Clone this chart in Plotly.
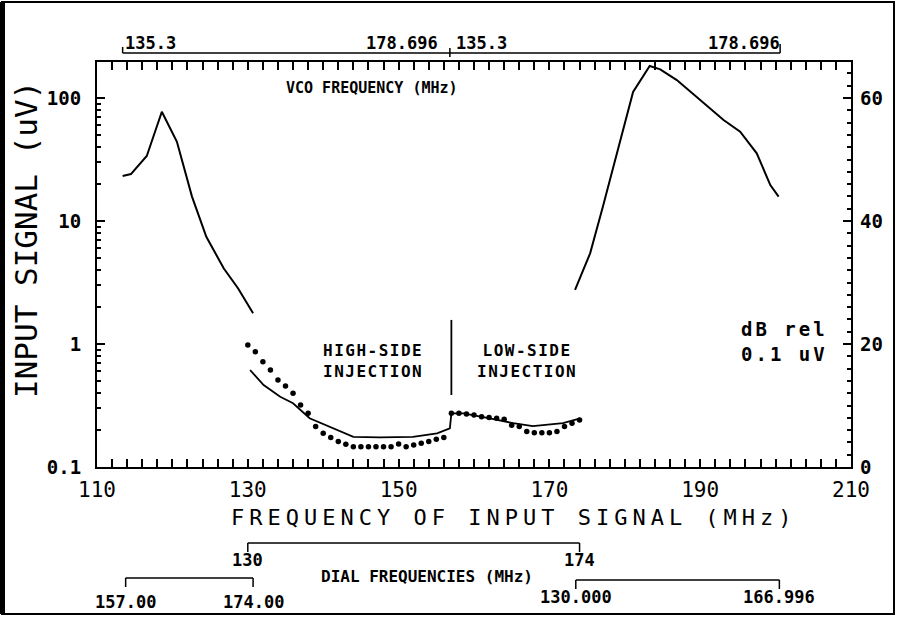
import plotly.graph_objects as go

# image-response curves (solid), input signal in uV vs input frequency in MHz
left_freq = [113.4, 114.5, 116.6, 118.6, 120.6, 122.6, 124.5, 126.8, 128.7, 130.7]
left_uv = [23.2, 24.1, 33.8, 77.4, 44.1, 15.8, 7.45, 4.13, 2.84, 1.78]

right_freq = [173.4, 175.4, 177.1, 179.1, 181.1, 183.3, 184.7, 186.9, 190.0, 193.1,
              195.3, 197.5, 199.3, 200.4]
right_uv = [2.75, 5.46, 13.1, 37.8, 112, 182, 171, 140, 96.4, 66.2, 53.2, 35.5, 19.6, 15.8]

# sensitivity, solid line
sens_freq = [130.3, 132.1, 134.3, 136.0, 138.2, 140.9, 144.0, 147.5, 151.9, 155.1,
             156.8, 157.0, 158.6, 162.1, 165.2, 167.8, 171.8, 174.1]
sens_uv = [0.615, 0.464, 0.373, 0.330, 0.249, 0.213, 0.176, 0.174, 0.176, 0.188,
           0.206, 0.273, 0.273, 0.249, 0.227, 0.215, 0.227, 0.249]

# sensitivity, dotted (one point per MHz)
dot_freq = [130, 131, 132, 133, 134, 135, 136, 137, 138, 139, 140, 141, 142, 143,
            144, 145, 146, 147, 148, 149, 150, 151, 152, 153, 154, 155, 156,
            157, 158, 159, 160, 161, 162, 163, 164, 165, 166, 167, 168, 169, 170,
            171, 172, 173, 174]
dot_uv = [0.98, 0.865, 0.718, 0.615, 0.51, 0.456, 0.397, 0.319, 0.273, 0.213,
          0.188, 0.174, 0.161, 0.153, 0.146, 0.146, 0.146, 0.146, 0.146, 0.146,
          0.154, 0.146, 0.151, 0.156, 0.161, 0.168, 0.174,
          0.273, 0.273, 0.270, 0.265, 0.256, 0.253, 0.249, 0.244, 0.219, 0.213,
          0.194, 0.190, 0.190, 0.190, 0.194, 0.213, 0.227, 0.241]

# high/low side divider
split_freq = [157.0, 157.0]
split_uv = [1.57, 0.385]

# VCO frequency brackets (top)
vco_start = [113.4, 156.8]
vco_end = [156.8, 200.6]
vco_lo_label = "135.3"
vco_hi_label = "178.696"

# dial frequency brackets (bottom)
dial_start = [130, 113.8, 173.5]
dial_end = [174, 130.7, 200.5]
dial_lo_labels = ["130", "157.00", "130.000"]
dial_hi_labels = ["174", "174.00", "166.996"]

x_ticks = [110, 130, 150, 170, 190, 210]
y_ticks = [0.1, 1, 10, 100]
y_ticktext = ["0.1", "1", "10", "100"]
db_ticks = [0, 20, 40, 60]

W, H = 897, 623
L, R, T, B = 97, 851, 62, 467
MONO = "DejaVu Sans Mono"


def px_x(px):
    return (px - L) / (R - L)


def px_y(py):
    return (B - py) / (B - T)


def spaced(text, sp):
    # the plotter font runs its letters wide; mimic with letter-spacing
    return '<span style="letter-spacing:%spx">%s</span>' % (sp, text)


y_top = 2.293
minor_y = [m * 10 ** e for e in range(-1, 3) for m in range(2, 10)]

fig = go.Figure()
fig.add_trace(go.Scatter(x=left_freq, y=left_uv, mode="lines",
                         line=dict(color="black", width=2)))
fig.add_trace(go.Scatter(x=right_freq, y=right_uv, mode="lines",
                         line=dict(color="black", width=2)))
fig.add_trace(go.Scatter(x=sens_freq, y=sens_uv, mode="lines",
                         line=dict(color="black", width=1.8)))
fig.add_trace(go.Scatter(x=dot_freq, y=dot_uv, mode="markers",
                         marker=dict(color="black", size=5.5)))
fig.add_trace(go.Scatter(x=split_freq, y=split_uv, mode="lines",
                         line=dict(color="black", width=1.8)))
# dummy trace to carry the right dB axis
fig.add_trace(go.Scatter(x=[None], y=[None], yaxis="y2"))

shapes = []
ann = []

# outer frame
shapes.append(dict(type="rect", xref="paper", yref="paper",
                   x0=px_x(2), x1=px_x(894), y0=px_y(2), y1=px_y(614),
                   line=dict(color="black", width=2)))
shapes.append(dict(type="line", xref="paper", yref="paper",
                   x0=px_x(2.5), x1=px_x(2.5), y0=px_y(2), y1=px_y(614),
                   line=dict(color="black", width=5)))


def seg(x0, x1, y0, y1):
    shapes.append(dict(type="line", xref="x", yref="paper", x0=x0, x1=x1,
                       y0=px_y(y0), y1=px_y(y1), line=dict(color="black", width=1.5)))


def label(x, y, text, font, xref="paper", xanchor="center", **kw):
    ann.append(dict(x=x, y=px_y(y), xref=xref, yref="paper", text=text,
                    xanchor=xanchor, yanchor="middle", showarrow=False, font=font, **kw))


# top bracket
seg(vco_start[0], vco_end[1], 53, 53)
seg(vco_start[0], vco_start[0], 47, 53)
seg(vco_end[0], vco_end[0], 48, 57)
seg(vco_end[1], vco_end[1], 44, 53)

lab_font = dict(family=MONO, size=17, color="black", weight="bold")
label(vco_start[0], 43, vco_lo_label, lab_font, xref="x", xanchor="left")
label(vco_end[0] - 1.3, 43, vco_hi_label, lab_font, xref="x", xanchor="right")
label(vco_start[1] + 0.5, 43, vco_lo_label, lab_font, xref="x", xanchor="left")
label(vco_end[1] + 0.2, 43, vco_hi_label, lab_font, xref="x", xanchor="right")

# bottom brackets
line_y = [543, 578, 580]
lab_y = [560, 602, 597]
for i in range(3):
    seg(dial_start[i], dial_end[i], line_y[i], line_y[i])
    seg(dial_start[i], dial_start[i], line_y[i], line_y[i] + 9)
    seg(dial_end[i], dial_end[i], line_y[i], line_y[i] + 9)
    label(dial_start[i], lab_y[i], dial_lo_labels[i], lab_font, xref="x")
    label(dial_end[i], lab_y[i], dial_hi_labels[i], lab_font, xref="x")

label(px_x(427), 576, "DIAL FREQUENCIES (MHz)",
      dict(family=MONO, size=16, color="black", weight="bold"))
label(px_x(372), 88, "VCO FREQUENCY (MHz)",
      dict(family=MONO, size=15, color="black", weight="bold"))
inj_font = dict(family=MONO, size=16, color="black", weight="bold")
label(px_x(373), 361, spaced("HIGH-SIDE<br>INJECTION", 1.5), inj_font)
label(px_x(527), 361, spaced("LOW-SIDE<br>INJECTION", 1.5), inj_font)
label(px_x(830), 341, spaced("dB rel<br>0.1 uV", 3), dict(family=MONO, size=19,
      color="black", weight="bold"), xanchor="right", align="right")
label(px_x(26), 240, "INPUT SIGNAL (uV)",
      dict(family=MONO, size=31, color="black"), textangle=-90)
label(px_x(514), 517, spaced("FREQUENCY OF INPUT SIGNAL (MHz)", 5),
      dict(family=MONO, size=22, color="black"))

fig.update_layout(
    width=W, height=H,
    margin=dict(l=L, r=W - R, t=T, b=H - B),
    paper_bgcolor="white", plot_bgcolor="white",
    showlegend=False,
    shapes=shapes, annotations=ann,
    xaxis=dict(range=[110, 210], tickvals=x_ticks, ticks="inside", ticklen=8,
               tickwidth=1.5, tickcolor="black", showline=True, linewidth=2,
               linecolor="black", mirror="allticks", showgrid=False, zeroline=False,
               ticklabelstandoff=3,
               tickfont=dict(family=MONO, size=21, color="black"),
               minor=dict(dtick=2, ticks="inside", ticklen=4, tickcolor="black",
                          tickwidth=1.5, showgrid=False)),
    yaxis=dict(type="log", range=[-1, y_top], tickvals=y_ticks, ticktext=y_ticktext,
               ticks="inside", ticklen=8, tickwidth=1.5, tickcolor="black",
               showline=True, linewidth=2, linecolor="black", mirror=True,
               showgrid=False, zeroline=False, ticklabelstandoff=10,
               tickfont=dict(family=MONO, size=19, color="black", weight="bold"),
               minor=dict(tickvals=minor_y, ticks="inside", ticklen=4,
                          tickcolor="black", tickwidth=1.5, showgrid=False)),
    yaxis2=dict(overlaying="y", side="right", range=[0, 20 * (y_top + 1)],
                tickvals=db_ticks, ticks="inside", ticklen=8, tickwidth=1.5,
                tickcolor="black", showgrid=False, zeroline=False, showline=False,
                ticklabelstandoff=8,
                tickfont=dict(family=MONO, size=19, color="black", weight="bold"),
                minor=dict(dtick=2, ticks="inside", ticklen=4, tickcolor="black",
                           tickwidth=1.5, showgrid=False)),
)

# drop the browser's default 8px body margin so the figure sits at the page origin
fig.write_html("out.html", config={"displayModeBar": False},
               post_script="document.body.style.margin = '0';")
